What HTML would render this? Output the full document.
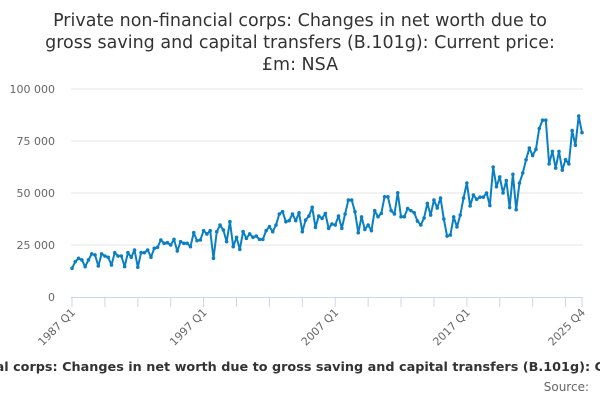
<!DOCTYPE html>
<html><head><meta charset="utf-8"><style>
html,body{margin:0;padding:0;background:#fff;}
svg{display:block;font-family:"DejaVu Sans","Liberation Sans",sans-serif;}
</style></head><body>
<svg id="chart" width="600" height="400" viewBox="0 0 600 400" xmlns="http://www.w3.org/2000/svg">
<rect width="600" height="400" fill="#fff"/>
<g fill="#333" font-size="17.5" text-anchor="middle">
<text x="300" y="26">Private non-financial corps: Changes in net worth due to</text>
<text x="300" y="48">gross saving and capital transfers (B.101g): Current price:</text>
<text x="300" y="70">£m: NSA</text>
</g>
<g id="grid"></g>
<g id="yaxis"></g>
<g id="xaxis"></g>
<g id="series"></g>
<text x="310" y="371" font-size="12.8" font-weight="bold" fill="#333" text-anchor="middle">Private non-financial corps: Changes in net worth due to gross saving and capital transfers (B.101g): Current price: £m: NSA</text>
<text x="589" y="391" font-size="12" fill="#666" text-anchor="end">Source:</text>
</svg>
<script>
const startYear = 1987;
const values = [
13.8,17,18.6,17.8, 14.6,17.8,20.7,20.2, 14.9,20.7,19.7,19.1, 15.4,21.3,19.7,19.7,
14.6,21.3,19.1,22.6, 14.3,21.3,21.3,22.6, 19.1,23.4,23.9,27.4, 25.8,26.1,25,27.7,
22.1,26.6,25.8,25.8, 24.2,30.9,27.1,27.4, 31.9,30.3,31.9,18.6, 31.4,34.6,32.2,26.6,
36.2,24.2,28.7,22.9, 31.4,28.2,30.3,28.7, 29.3,27.7,27.7,31.9, 33.8,31.4,34.6,39.9,
41,36.2,36.7,39.9, 36.7,40.5,31.4,37, 38.9,43.1,33.5,38.9, 37.8,40.2,33,35.1,
34.6,38.9,33,39.9, 46.6,46.6,41,30.9, 38.5,32.5,34.6,31.9, 41.5,38.6,40.2,48.2,
48.2,41.5,39.9,50.1, 38.6,38.6,42.5,41.5, 40.5,36.5,34.6,38, 45,39.4,46.6,42.8,
47.6,37.5,29.3,29.8, 38.5,33.7,39.4,47.6, 54.8,43.8,49,47, 48,48,50,44,
62.5,53,57.7,50, 56,43,59,42, 54.8,59.6,66,71.6, 68,71,81,85,
85,64,70,62, 70,61,66,64, 80,73,87,79];
const yTicks = [0,25000,50000,75000,100000];
const yTickLabels = ["0","25 000","50 000","75 000","100 000"];
const xLabelIdx = [0,40,80,120,155];
const xLabels = ["1987 Q1","1997 Q1","2007 Q1","2017 Q1","2025 Q4"];

const NS="http://www.w3.org/2000/svg";
const x0=72,x1=582,y0=297,y1=89;
const xs=i=>x0+(x1-x0)*i/(values.length-1);
const ys=v=>y0-(y0-y1)*v/100000;
function mk(tag,attrs,parent){const e=document.createElementNS(NS,tag);for(const k in attrs)e.setAttribute(k,attrs[k]);parent.appendChild(e);return e;}
const grid=document.getElementById('grid'),ya=document.getElementById('yaxis'),xa=document.getElementById('xaxis'),se=document.getElementById('series');
yTicks.forEach((t,i)=>{
  if(t>0){const l=mk('line',{x1:x0-1,x2:x1+1,y1:ys(t),y2:ys(t),stroke:'#e6e6e6','stroke-width':1},grid);
  
  }
  const tx=mk('text',{x:55,y:ys(t)+4,'font-size':11,fill:'#666','text-anchor':'end'},ya);
  tx.textContent=yTickLabels[i];
  
  
});
const ax=mk('line',{x1:x0-1,x2:x1+1,y1:y0+0.5,y2:y0+0.5,stroke:'#ccd6eb','stroke-width':1},xa);


for(let i=0;i<values.length;i+=10){
  const t=mk('line',{x1:xs(i),x2:xs(i),y1:y0,y2:y0+10,stroke:'#ccd6eb'},xa);
  
  
}
const lt=mk('line',{x1:xs(155),x2:xs(155),y1:y0,y2:y0+10,stroke:'#ccd6eb'},xa);


xLabelIdx.forEach((idx,i)=>{
  const x=xs(idx)+4,y=y0+16;
  const t=mk('text',{x:x,y:y,'font-size':11,fill:'#666','text-anchor':'end',transform:`rotate(-45 ${x} ${y})`},xa);
  t.textContent=xLabels[i];
  
  
});
const d=values.map((v,i)=>(i?'L':'M')+xs(i).toFixed(2)+' '+ys(v*1000).toFixed(2)).join(' ');
const p=mk('path',{d:d,fill:'none',stroke:'#0a7fc1','stroke-width':2,'stroke-linejoin':'round'},se);


values.forEach((v,i)=>{
  const c=mk('circle',{cx:xs(i),cy:ys(v*1000),r:1.8,fill:'#0a7fc1'},se);
  
  
});
</script>
</body></html>
